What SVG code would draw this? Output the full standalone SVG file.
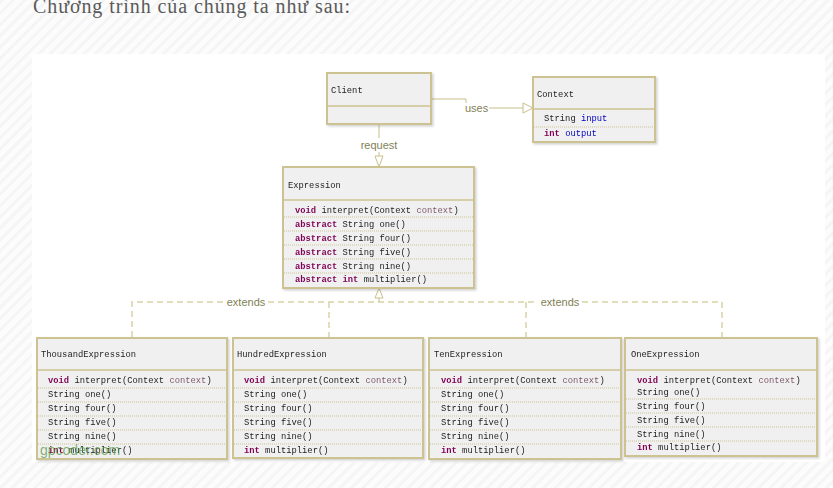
<svg xmlns="http://www.w3.org/2000/svg" width="833" height="488" viewBox="0 0 833 488">
<defs>
<pattern id="stripes" width="8" height="8" patternUnits="userSpaceOnUse" patternTransform="rotate(45)">
<rect width="8" height="8" fill="#fcfcfc"/>
<rect width="3" height="8" fill="#f5f5f5"/>
</pattern>
<filter id="sh" x="-5%" y="-5%" width="115%" height="120%">
<feDropShadow dx="1.5" dy="1.5" stdDeviation="1.2" flood-color="#000" flood-opacity="0.18"/>
</filter>
<style>
.box{fill:#f0f0f0;stroke:#cdc392;stroke-width:2}
.sep{stroke:#cdc392;stroke-width:1.5}
.dot{stroke:#cdc392;stroke-width:1;stroke-dasharray:1 1}
.t{font-family:"Liberation Mono","DejaVu Sans Mono",monospace;font-size:8.8px;fill:#222}
.kw{fill:#7f0055;font-weight:bold}
.prm{fill:#7d5a6b}
.fld{fill:#0000c0}
.lbl{font-family:"Liberation Sans",Arial,sans-serif;font-size:11px;fill:#7f7f55}
.conn{stroke:#c8c08a;stroke-width:1;fill:none}
.tri{stroke:#c8c08a;stroke-width:1;fill:#ffffff}
.dash{stroke:#d9d3a6;stroke-width:1.5;stroke-dasharray:6 4;fill:none}
.title{font-family:"Liberation Serif","DejaVu Serif",serif;font-size:20px;fill:#5a5a5a}
.wm{font-family:"Liberation Sans",Arial,sans-serif;font-size:14px;fill:#5a9a48;fill-opacity:0.75}
</style>
</defs>
<rect width="833" height="488" fill="url(#stripes)"/>
<rect x="32" y="54" width="793" height="408" fill="#ffffff"/>
<text class="title" x="33" y="13" textLength="317">Chương trình của chúng ta như sau:</text>

<g id="connectors">
<path class="conn" d="M431 99 H466 V103"/>
<text class="lbl" x="465" y="112">uses</text>
<path class="conn" d="M489 108 H523"/>
<path class="tri" d="M523 103 L533 108 L523 113 Z"/>
<path class="conn" d="M379 124 V138"/>
<text class="lbl" x="379" y="149" text-anchor="middle">request</text>
<path class="conn" d="M379 152 V156"/>
<path class="tri" d="M375 156 L379 167 L383 156 Z"/>
<path class="dash" d="M132 337 V302 H224"/>
<text class="lbl" x="246" y="306" text-anchor="middle">extends</text>
<path class="dash" d="M268 302 H538"/>
<text class="lbl" x="560" y="306" text-anchor="middle">extends</text>
<path class="dash" d="M582 302 H722 V337"/>
<path class="dash" d="M329 302 V337"/>
<path class="dash" d="M526 302 V337"/>
<path class="conn" d="M379 302 V298"/>
<path class="tri" d="M375 298 L379 288 L383 298 Z"/>
</g>

<g id="client" filter="url(#sh)">
<rect class="box" x="327" y="73" width="104" height="51"/>
<line class="sep" x1="327" y1="106" x2="431" y2="106"/>
<text class="t" x="331" y="93">Client</text>
</g>

<g id="context" filter="url(#sh)">
<rect class="box" x="533" y="77" width="122" height="65"/>
<line class="sep" x1="533" y1="109" x2="655" y2="109"/>
<text class="t" x="537" y="97">Context</text>
<text class="t" x="544" y="121">String <tspan class="fld">input</tspan></text>
<line class="dot" x1="534" y1="127" x2="654" y2="127"/>
<text class="t" x="544" y="136"><tspan class="kw">int</tspan> <tspan class="fld">output</tspan></text>
</g>

<g id="expression" filter="url(#sh)">
<rect class="box" x="283" y="167" width="191" height="121"/>
<line class="sep" x1="283" y1="200" x2="474" y2="200"/>
<text class="t" x="288" y="188">Expression</text>
<text class="t" x="295" y="213"><tspan class="kw">void</tspan> interpret(Context <tspan class="prm">context</tspan>)</text>
<line class="dot" x1="284" y1="217" x2="473" y2="217"/>
<text class="t" x="295" y="227"><tspan class="kw">abstract</tspan> String one()</text>
<line class="dot" x1="284" y1="231" x2="473" y2="231"/>
<text class="t" x="295" y="241"><tspan class="kw">abstract</tspan> String four()</text>
<line class="dot" x1="284" y1="245" x2="473" y2="245"/>
<text class="t" x="295" y="255"><tspan class="kw">abstract</tspan> String five()</text>
<line class="dot" x1="284" y1="259" x2="473" y2="259"/>
<text class="t" x="295" y="269"><tspan class="kw">abstract</tspan> String nine()</text>
<line class="dot" x1="284" y1="273" x2="473" y2="273"/>
<text class="t" x="295" y="282"><tspan class="kw">abstract</tspan> <tspan class="kw">int</tspan> multiplier()</text>
</g>

<g id="thousand" filter="url(#sh)">
<rect class="box" x="37" y="338" width="190" height="121"/>
<line class="sep" x1="37" y1="370" x2="227" y2="370"/>
<text class="t" x="41" y="357">ThousandExpression</text>
<text class="t" x="48" y="383"><tspan class="kw">void</tspan> interpret(Context <tspan class="prm">context</tspan>)</text>
<line class="dot" x1="38" y1="388" x2="226" y2="388"/>
<text class="t" x="48" y="397">String one()</text>
<line class="dot" x1="38" y1="402" x2="226" y2="402"/>
<text class="t" x="48" y="411">String four()</text>
<line class="dot" x1="38" y1="416" x2="226" y2="416"/>
<text class="t" x="48" y="425">String five()</text>
<line class="dot" x1="38" y1="430" x2="226" y2="430"/>
<text class="t" x="48" y="439">String nine()</text>
<line class="dot" x1="38" y1="444" x2="226" y2="444"/>
<text class="t" x="48" y="453"><tspan class="kw">int</tspan> multiplier()</text>
</g>

<g id="hundred" filter="url(#sh)">
<rect class="box" x="233" y="338" width="190" height="120"/>
<line class="sep" x1="233" y1="370" x2="423" y2="370"/>
<text class="t" x="237" y="357">HundredExpression</text>
<text class="t" x="244" y="383"><tspan class="kw">void</tspan> interpret(Context <tspan class="prm">context</tspan>)</text>
<line class="dot" x1="234" y1="388" x2="422" y2="388"/>
<text class="t" x="244" y="397">String one()</text>
<line class="dot" x1="234" y1="402" x2="422" y2="402"/>
<text class="t" x="244" y="411">String four()</text>
<line class="dot" x1="234" y1="416" x2="422" y2="416"/>
<text class="t" x="244" y="425">String five()</text>
<line class="dot" x1="234" y1="430" x2="422" y2="430"/>
<text class="t" x="244" y="439">String nine()</text>
<line class="dot" x1="234" y1="444" x2="422" y2="444"/>
<text class="t" x="244" y="453"><tspan class="kw">int</tspan> multiplier()</text>
</g>

<g id="ten" filter="url(#sh)">
<rect class="box" x="429" y="338" width="192" height="121"/>
<line class="sep" x1="429" y1="370" x2="621" y2="370"/>
<text class="t" x="434" y="357">TenExpression</text>
<text class="t" x="441" y="383"><tspan class="kw">void</tspan> interpret(Context <tspan class="prm">context</tspan>)</text>
<line class="dot" x1="430" y1="388" x2="620" y2="388"/>
<text class="t" x="441" y="397">String one()</text>
<line class="dot" x1="430" y1="402" x2="620" y2="402"/>
<text class="t" x="441" y="411">String four()</text>
<line class="dot" x1="430" y1="416" x2="620" y2="416"/>
<text class="t" x="441" y="425">String five()</text>
<line class="dot" x1="430" y1="430" x2="620" y2="430"/>
<text class="t" x="441" y="439">String nine()</text>
<line class="dot" x1="430" y1="444" x2="620" y2="444"/>
<text class="t" x="441" y="453"><tspan class="kw">int</tspan> multiplier()</text>
</g>

<g id="one" filter="url(#sh)">
<rect class="box" x="625" y="338" width="192" height="118"/>
<line class="sep" x1="625" y1="370" x2="817" y2="370"/>
<text class="t" x="631" y="357">OneExpression</text>
<text class="t" x="637" y="383"><tspan class="kw">void</tspan> interpret(Context <tspan class="prm">context</tspan>)</text>
<text class="t" x="637" y="395">String one()</text>
<line class="dot" x1="626" y1="399" x2="816" y2="399"/>
<text class="t" x="637" y="409">String four()</text>
<line class="dot" x1="626" y1="413" x2="816" y2="413"/>
<text class="t" x="637" y="423">String five()</text>
<line class="dot" x1="626" y1="427" x2="816" y2="427"/>
<text class="t" x="637" y="437">String nine()</text>
<line class="dot" x1="626" y1="441" x2="816" y2="441"/>
<text class="t" x="637" y="450"><tspan class="kw">int</tspan> multiplier()</text>
</g>

<text class="wm" x="40" y="455">gpcoder.com</text>
</svg>
